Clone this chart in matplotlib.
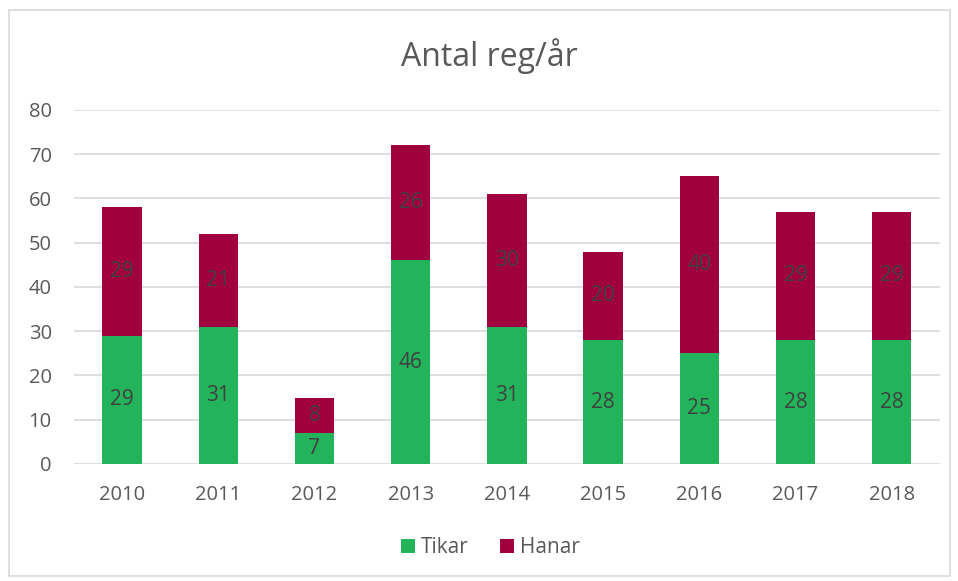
import matplotlib.pyplot as plt
from matplotlib.patches import Rectangle

plt.rcParams['font.family'] = ['Open Sans', 'DejaVu Sans']

years = ["2010", "2011", "2012", "2013", "2014", "2015", "2016", "2017", "2018"]
tikar = [29, 31, 7, 46, 31, 28, 25, 28, 28]
hanar = [29, 21, 8, 26, 30, 20, 40, 29, 29]

green = "#23B35A"
maroon = "#A0003E"
text_col = "#595959"

fig = plt.figure(figsize=(9.58, 5.81), dpi=100)
ax = fig.add_axes([0.0772, 0.2014, 0.9038, 0.6093])

x = range(len(years))
b1 = ax.bar(x, tikar, width=0.41, color=green, label="Tikar", zorder=2)
b2 = ax.bar(x, hanar, width=0.41, bottom=tikar, color=maroon, label="Hanar", zorder=2)

ax.bar_label(b1, label_type="center", fontsize=15, color="#404040")
ax.bar_label(b2, label_type="center", fontsize=15, color="#404040")

ax.set_xlim(-0.5, len(years) - 0.5)
ax.set_ylim(0, 80)
ax.set_yticks(range(0, 81, 10))
ax.set_xticks(list(x))
ax.set_xticklabels(years)
ax.tick_params(axis="both", length=0, labelsize=14.5, colors=text_col)
ax.tick_params(axis="y", pad=16)
ax.tick_params(axis="x", pad=15)
ax.yaxis.grid(True, color="#D9D9D9", linewidth=1.2, zorder=0)
ax.set_axisbelow(True)
for s in ax.spines.values():
    s.set_visible(False)

fig.text(0.511, 0.903, "Antal reg/år", ha="center", va="center", fontsize=23, color=text_col)

leg = fig.legend(handles=[b1, b2], loc="center", bbox_to_anchor=(0.512, 0.057), ncol=2,
                 frameon=False, fontsize=15, handlelength=0.65, handleheight=0.65,
                 handletextpad=0.3, columnspacing=1.5)
for t in leg.get_texts():
    t.set_color(text_col)

fig.patches.append(Rectangle((9 / 958, 1 - 576 / 581), 941 / 958, 566 / 581,
                             transform=fig.transFigure, fill=False,
                             edgecolor="#D9D9D9", linewidth=1.2))

fig.savefig("out.png", dpi=100)
